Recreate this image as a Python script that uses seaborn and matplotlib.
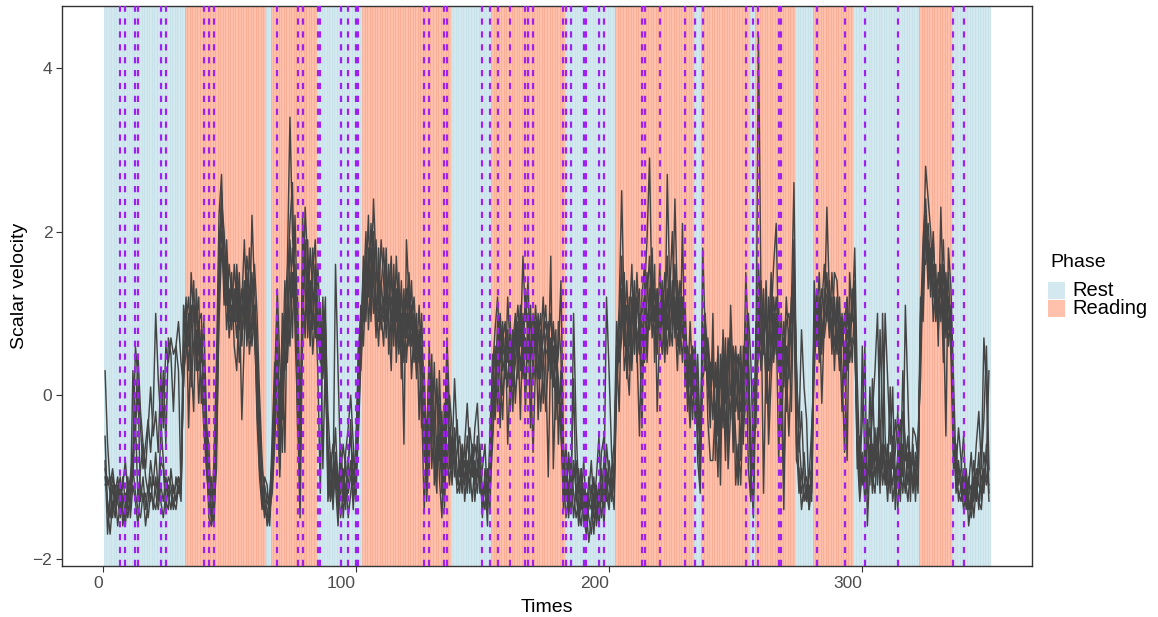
import numpy as np
import pandas as pd
import matplotlib
matplotlib.use("Agg")
import matplotlib.pyplot as plt
from matplotlib.patches import Rectangle
import seaborn as sns

# ---------------- data ----------------
phase_labels = ["Rest", "Reading", "Rest", "Reading", "Rest", "Reading", "Rest", "Reading",
                "Rest", "Reading", "Rest", "Reading", "Rest", "Reading", "Rest", "Reading",
                "Rest", "Reading", "Rest"]
phase_lengths = [32, 32, 2, 18, 18, 35, 16, 29, 20, 31, 3, 19, 2, 16, 7, 16, 26, 13, 15]
legend_levels = ["Rest", "Reading"]

x_ticks = [0, 100, 200, 300]
x_tick_labels = ["0", "100", "200", "300"]
y_ticks = [-2, 0, 2, 4]
y_tick_labels = ["\u22122", "0", "2", "4"]

event_times = [7, 9, 13, 14, 23, 25, 40, 42, 44, 69, 77, 79, 85, 86, 94, 97, 100, 101,
               127, 129, 135, 136, 150, 153, 156, 161, 167, 168, 170, 182, 183, 185, 190,
               191, 196, 198, 213, 214, 220, 230, 234, 237, 254, 257, 259, 267, 268, 282,
               293, 301, 314, 336, 340]

s1 = [0.3, -0.6, -1.1, -0.9, -1.2, -1.0, -1.3, -1.1, -0.8, -1.2,
      -1.0, -0.7, 0.6, 0.2, -0.4, -0.9, -0.6, -0.3, -0.7, -0.2,
      1.0, 0.2, -0.3, -0.8, -1.3, -1.4, -0.9, -1.2, -1.1, -1.0,
      -1.1, 1.1, 0.8, 0.3, 1.5, 0.9, 1.1, 0.5, 0.2, -0.4,
      -0.9, -1.3, -1.5, -0.8, 0.4, 2.2, 2.7, 1.5, 1.1, 1.6,
      1.2, 0.9, 1.4, 0.8, 1.1, 1.9, 1.0, 0.7, 2.2, 1.3,
      0.6, -0.4, -1.1, -1.4, -1.5, -1.2, -0.8, 0.2, 1.3, 0.4,
      -0.3, 0.9, 1.6, 3.4, 2.0, 1.1, 0.3, -1.2, 2.2, 1.3,
      0.9, 1.8, 1.2, 0.7, 1.6, 0.8, 0.4, 0.9, -0.2, -0.8,
      -1.2, 1.6, 0.3, -0.9, -1.3, -0.7, -0.4, 0.0, -0.6, -1.2,
      -0.1, 0.8, 1.5, 0.9, 1.8, 1.3, 2.4, 1.6, 1.1, 1.9,
      1.4, 0.7, 1.2, 1.7, 0.8, 1.3, 0.5, 1.0, -0.6, 1.9,
      1.2, 0.6, 1.0, 0.3, 0.8, -0.1, -1.4, -0.5, 0.4, -0.9,
      -0.3, 0.2, -1.0, -1.5, -0.6, 0.7, -0.2, -0.8, 0.2, -0.5,
      -0.9, -1.2, -0.6, -0.1, -0.7, -1.0, -0.4, -0.1, -0.8, -1.4,
      -1.0, -1.6, -0.4, 0.3, 0.8, 1.2, 0.4, 0.9, 0.2, 1.2,
      0.5, -0.2, 0.7, 1.1, 0.6, 1.7, 0.9, 1.4, 0.3, -0.7,
      0.4, 1.0, 0.2, 0.8, 1.1, 0.3, 1.7, -0.9, 0.2, 0.5,
      1.4, -0.6, -1.1, -0.8, -1.3, 1.0, -0.4, -1.2, -0.9, -1.5,
      -1.7, -1.2, -0.8, -1.4, -1.0, -0.5, -1.3, -1.1, 1.2, 0.3,
      -0.7, -1.2, 0.3, 1.1, 2.5, 0.9, 0.4, 0.0, 1.2, 0.7,
      1.5, 0.8, -0.4, 1.3, 1.9, 2.9, 1.0, 1.6, -0.2, 0.8,
      1.4, 0.6, 2.7, 1.2, 0.9, 2.4, 1.1, 0.5, 2.1, 0.1,
      0.6, 0.4, -0.3, 0.5, -0.8, -1.2, 1.8, 0.7, 0.2, -0.4,
      1.0, -0.8, 0.3, -1.1, 0.8, 0.1, -0.6, 1.1, 0.2, -0.5,
      -1.1, 0.4, -0.2, 1.5, 0.6, -0.9, -1.5, 0.3, 4.4, 1.2,
      -1.2, 0.5, -0.3, 0.9, 1.6, 2.1, 0.5, 0.1, -1.4, 0.6,
      0.2, 1.1, 2.6, 0.1, -0.4, 0.8, 0.1, -0.3, -1.4, -1.1,
      1.4, 0.6, 1.1, -0.1, 0.9, 2.3, 1.2, 0.7, 1.5, 1.4,
      0.8, -0.2, 0.6, -0.8, 1.5, 0.9, 1.8, 0.2, -0.9, -0.3,
      0.6, -1.6, -0.8, -0.2, 0.3, 1.0, -0.5, -0.9, 1.0, 0.2,
      -0.6, 0.1, -1.4, -0.7, -0.3, -1.0, 1.1, 0.0, -1.1, -0.6,
      -1.3, -0.5, 0.2, 1.6, 2.8, 2.4, 2.0, 1.2, 1.6, 0.6,
      2.3, 1.1, -0.5, 1.8, 1.3, 0.2, -0.9, -0.4, -0.8, -1.2,
      -1.0, -1.6, -1.3, -1.1, -0.6, -0.2, -0.9, 0.7, 0.1, -1.2]

s2 = [-0.5, -1.4, -1.7, -1.3, -1.5, -1.1, -1.4, -1.2, -1.5, -1.3,
      -1.1, -0.8, -0.3, 0.5, -0.2, -0.6, -0.9, -0.4, 0.1, -0.5,
      -0.2, -0.7, 0.3, -0.4, 0.6, 0.4, 0.7, 0.5, 0.6, 0.3,
      -1.2, 0.6, 1.2, -0.4, 0.8, 1.4, 0.3, 0.9, 1.0, 0.1,
      -0.6, -1.5, -1.6, -1.2, -0.3, 1.5, 2.4, 2.0, 1.3, 0.9,
      1.5, 0.6, 0.3, 1.2, -0.3, 0.7, 1.3, 0.5, 0.9, 1.6,
      1.0, 0.0, -0.8, -1.3, -1.4, -1.6, -0.9, -0.2, 0.6, -0.9,
      0.5, -0.7, 1.3, 2.1, 2.6, 0.8, -0.2, -1.5, 0.9, 2.3,
      1.6, 1.0, 1.8, 1.2, 0.3, -1.2, 0.9, 0.6, -1.3, -0.9,
      -0.6, -1.1, -1.6, -0.7, -1.0, -1.4, -0.8, -0.5, -1.1, -0.9,
      0.5, 1.0, 0.9, 1.7, 1.2, 2.1, 1.4, 0.7, 1.8, 1.0,
      0.6, 1.5, 0.9, 0.3, 1.6, 0.4, 1.1, 0.6, 0.9, 1.3,
      0.8, 1.4, 0.5, 1.0, -0.3, 0.6, 0.2, -1.3, -0.6, 0.1,
      -0.8, -1.2, 0.3, -0.7, -1.3, 0.2, -0.6, -1.1, -0.4, -0.9,
      -1.2, -0.7, -1.1, -0.5, -0.9, -1.3, -0.8, -1.0, -0.6, -1.2,
      -1.4, -0.9, -1.2, -0.6, 0.2, 0.5, -0.4, 0.7, 0.9, -0.6,
      0.3, 0.8, -0.1, 0.5, 1.0, 0.4, 1.3, 0.6, 1.1, 0.2,
      0.9, -0.3, 0.6, 1.2, 0.4, -1.0, 0.7, 0.1, 0.8, -0.6,
      0.3, -0.9, -1.3, -0.7, -1.0, -1.5, -1.1, -1.6, -1.3, -0.8,
      -1.4, -1.8, -1.5, -1.2, -1.6, -1.3, -0.9, -1.4, -0.6, -1.0,
      -1.3, -0.8, 0.5, -0.2, 1.3, 0.6, 1.1, 0.3, 0.8, 1.4,
      0.6, -0.5, 0.9, 0.4, 1.2, 1.7, 0.7, 1.1, 0.5, 1.6,
      0.9, 1.5, 0.8, 1.3, 2.0, 0.7, 1.4, 0.9, 0.4, 1.1,
      0.3, -0.2, 0.6, 0.4, -0.5, -1.0, 0.5, 1.0, -0.3, -0.8,
      -0.8, -0.1, -1.0, 0.5, -0.4, 0.7, -0.9, -0.2, 0.4, -1.1,
      -0.6, -1.1, 0.0, 0.8, -0.9, -1.3, 0.2, -0.4, 1.2, 0.6,
      1.3, -0.1, 0.7, 1.5, 0.4, 0.9, -0.8, 0.6, -1.0, 0.3,
      -0.5, 0.4, 1.9, -0.6, -1.2, -0.9, -1.3, -1.1, -1.4, -0.8,
      0.8, 1.3, 0.4, 1.1, 1.6, 0.9, 1.4, 0.6, 1.0, 0.5,
      1.2, 0.3, -0.7, 0.8, 0.6, 1.3, 1.0, -0.9, -0.5, -1.1,
      -0.6, -1.2, 0.1, -0.9, -0.4, -1.1, 0.8, -0.3, -1.0, -0.6,
      -1.2, -0.5, -0.9, -1.4, -0.8, -0.2, -0.6, -1.1, -0.7, -1.2,
      -0.9, -1.1, 0.9, 1.9, 2.4, 1.7, 1.4, 2.0, 1.1, 1.5,
      0.9, 1.6, 0.7, 1.2, 0.5, -0.9, -0.6, -1.1, -0.9, -0.5,
      -1.3, -1.1, -0.7, -1.3, -1.0, -1.4, -0.8, -0.3, 0.6, -0.9]

s3 = [-0.9, -1.1, -1.0, -1.4, -1.2, -1.6, -1.3, -1.0, -1.3, -1.5,
      -1.2, -1.0, -0.3, -1.3, -0.9, -0.6, -1.0, -1.2, -0.8, -1.1,
      -0.7, -1.2, -0.5, 0.3, -0.6, 0.7, 0.5, -0.2, 0.6, 0.9,
      0.4, 0.1, 0.9, 1.2, 0.4, -0.2, 1.3, 0.7, 0.4, 0.9,
      -0.2, -1.1, -1.4, -1.6, -0.5, 1.9, 2.2, 1.1, 1.7, 1.0,
      0.8, 1.3, 0.9, 1.5, 0.6, 1.2, 0.8, 1.8, 1.1, 0.7,
      0.2, -0.7, -1.3, -1.1, -1.3, -1.4, -0.5, 0.4, -0.2, -1.0,
      0.2, 1.4, 0.6, 1.9, 1.2, 1.6, -0.4, -0.8, 1.5, 1.7,
      1.2, 0.6, 1.5, 1.9, 0.8, 0.4, 1.2, 0.1, -0.7, -1.2,
      -0.9, -0.4, -1.2, -0.6, -1.5, -1.1, -0.9, -0.3, -1.3, -1.0,
      -0.5, 0.4, 1.2, 2.0, 0.8, 1.5, 1.9, 1.2, 0.6, 1.4,
      1.0, 1.8, 0.5, 1.2, 1.0, 0.6, 1.5, 0.2, 1.1, 0.7,
      1.3, 0.2, 0.8, 0.5, 1.1, 0.3, -0.5, -1.1, -0.2, 0.5,
      -1.1, -0.5, -0.8, -0.2, -1.4, -0.3, 0.0, -0.4, -1.0, -0.7,
      -0.5, -1.0, -0.8, -1.2, -0.4, -0.7, -1.1, -0.5, -1.2, -0.9,
      -0.6, -1.3, -0.8, -0.1, 0.6, -0.2, 0.9, 0.3, 0.5, 0.8,
      -0.2, 0.6, 1.0, 0.2, 0.8, 0.5, 0.1, 0.9, -0.4, 0.6,
      1.1, 0.5, -0.2, 0.4, 0.7, 0.9, 0.2, 0.6, -0.3, 0.9,
      0.5, -1.2, -0.6, -1.4, -1.1, 0.2, -1.3, -0.9, -1.4, -1.1,
      -1.5, -1.0, -1.3, -1.7, -1.1, -1.4, -0.7, -0.5, -1.2, -1.4,
      -0.9, -0.6, 0.9, 0.4, 0.7, 1.5, 0.2, 0.9, 1.6, 0.5,
      1.1, 1.3, 0.2, 0.7, 0.9, 1.2, 1.8, 0.4, 1.3, 0.9,
      0.5, 1.1, 1.7, 0.6, 1.4, 1.0, 0.3, 1.2, 0.8, 0.6,
      0.0, 0.9, 0.2, -0.3, 0.5, -0.6, 0.9, 0.3, 0.6, 0.1,
      0.4, -0.6, 0.6, -0.4, 0.2, -0.8, 0.5, 0.6, -0.7, 0.3,
      0.5, -0.8, 0.6, 0.3, 1.0, 0.4, -0.8, 0.7, 0.9, 0.3,
      0.6, 1.1, -0.6, 0.2, 1.0, 0.5, 1.1, -0.5, 0.4, 1.2,
      0.6, -0.2, 1.5, 0.4, -0.7, -0.2, -1.0, -1.3, -1.0, -0.4,
      0.3, 0.9, 1.5, 0.6, 1.0, 1.5, 0.8, 1.2, 0.3, 1.1,
      0.5, 1.0, 0.2, 1.1, 0.4, 0.7, 0.6, -0.4, -1.2, 0.6,
      -0.9, -0.3, -1.1, 0.2, -0.8, -0.4, -1.2, 1.0, -0.5, -1.0,
      0.1, -0.9, -0.3, -0.6, -1.1, 0.3, -0.8, -0.5, -1.3, -0.4,
      -0.5, -0.8, 1.2, 0.9, 2.1, 1.3, 1.8, 0.9, 1.4, 1.0,
      1.6, 0.4, 1.5, 0.8, 1.1, -0.5, -1.1, -0.8, -1.2, -0.9,
      -1.1, -1.4, -1.2, -0.8, -1.2, -0.7, -1.3, -1.0, -0.8, 0.3]

s4 = [-1.0, -1.3, -1.5, -1.1, -1.4, -1.3, -1.1, -1.4, -1.6, -1.2,
      -1.4, 0.3, -0.4, 0.1, -1.3, -1.0, -1.4, -1.1, -1.3, -1.0,
      -1.2, -1.4, -1.1, -1.3, -1.0, -1.2, -1.4, -1.1, -1.3, -1.0,
      -1.2, 0.3, 0.5, 1.0, 0.1, 0.6, 0.8, -0.1, 0.6, 0.3,
      -0.5, -0.9, -1.2, -1.4, -0.9, 1.2, 2.0, 1.7, 0.8, 1.3,
      0.9, 1.6, 1.1, 0.4, 0.9, 1.4, 0.6, 1.2, 1.5, 0.8,
      -0.1, -0.9, -1.2, -1.5, -1.2, -1.3, -1.1, -0.4, 0.9, -0.5,
      1.0, 0.3, 0.9, 1.5, 0.7, 2.2, 0.8, -0.6, 1.1, 0.9,
      1.5, 1.2, 0.8, 1.4, 1.1, 0.5, 0.2, 0.8, -1.0, -1.3,
      -1.0, -0.8, -1.3, -1.2, -0.9, -1.3, -1.1, -0.8, -1.4, -0.6,
      0.3, 1.1, 0.6, 1.4, 2.2, 0.9, 1.6, 1.9, 0.9, 1.3,
      1.8, 1.1, 1.5, 0.9, 1.3, 1.1, 0.7, 1.4, 0.4, 1.0,
      0.6, 1.1, 0.9, 0.2, 0.7, -0.4, 0.3, -0.9, 0.2, -0.6,
      0.4, -0.9, -0.1, -1.0, -0.4, -0.7, -1.1, -0.6, -0.8, -1.1,
      -0.8, -1.1, -1.0, -0.8, -1.2, -0.6, -1.3, -0.9, -1.0, -1.1,
      -1.2, -1.4, -0.6, -0.5, 0.1, 0.9, 0.2, -0.3, 0.7, 0.4,
      0.9, 0.1, 0.4, 0.8, -0.3, 1.0, 0.5, 0.7, 0.9, 0.4,
      0.2, 0.7, 1.0, -0.1, 0.5, 0.6, 1.0, 0.4, 0.6, 0.2,
      -0.3, -1.4, -0.9, -1.1, -1.4, -0.8, -1.2, -1.5, -1.1, -1.3,
      -1.2, -1.5, -1.7, -1.3, -1.2, -1.6, -1.2, -0.8, -1.0, -1.3,
      -1.0, -1.1, 0.2, 0.8, 1.7, 0.3, 0.6, 1.2, 0.4, 1.0,
      0.8, 0.5, 1.2, 1.6, 0.4, 1.3, 0.9, 1.3, 0.8, 1.1,
      1.2, 0.8, 1.3, 0.9, 0.6, 1.6, 0.8, 1.4, 1.0, 0.5,
      0.4, 0.1, 0.3, 0.6, -0.2, -0.6, 0.4, 0.9, 0.5, -0.2,
      0.6, -0.3, 0.2, 0.1, 0.7, -0.5, 0.3, 0.8, -0.4, 0.5,
      -0.3, 0.3, -0.6, 0.5, 0.2, -1.1, -1.2, 0.5, 1.6, 0.9,
      0.5, 1.4, 0.3, 0.6, 1.2, 0.7, 0.3, 1.0, 0.1, 0.9,
      1.0, 0.6, 1.3, -0.3, -1.0, -1.2, -0.7, -1.2, -1.1, -1.3,
      0.6, 1.1, 0.8, 0.5, 1.3, 1.2, 0.7, 1.5, 0.9, 0.8,
      0.3, 0.9, 0.5, 0.3, 1.0, 0.4, 1.2, -0.5, -0.9, -0.7,
      -1.1, -0.6, -0.4, -1.0, -1.2, -0.5, -0.9, -0.6, -1.1, -0.8,
      -0.9, -1.1, -0.7, -0.2, -0.9, -1.2, -0.6, -0.9, -0.8, -1.1,
      -0.7, -0.9, 0.8, 1.3, 1.9, 2.1, 1.5, 1.6, 0.9, 1.3,
      1.2, 1.9, 0.9, 1.5, 0.7, -0.3, -1.2, -0.9, -1.0, -1.3,
      -0.9, -1.3, -1.5, -1.2, -0.9, -1.1, -1.2, -0.7, -1.0, -1.1]

s5 = [-1.1, -1.0, -1.2, -1.5, -1.1, -1.3, -1.5, -1.3, -1.2, -1.4,
      -1.3, -0.9, -1.2, -1.4, -1.5, -1.2, -1.6, -1.3, -1.0, -1.4,
      -1.0, -1.3, -0.8, -0.9, -1.4, -1.1, -1.2, -1.4, -1.0, -1.2,
      -1.0, 0.2, 1.0, 0.6, 1.1, 0.5, 0.9, 1.2, -0.1, 0.5,
      -0.4, -0.6, -1.6, -1.1, -0.2, 1.6, 2.5, 1.2, 1.5, 0.7,
      1.1, 0.9, 1.6, 1.0, 1.3, 0.8, 1.5, 1.0, 0.6, 1.1,
      0.4, -0.3, -0.9, -1.2, -1.6, -1.4, -1.2, -0.6, 0.3, 0.1,
      -0.7, 0.6, 1.1, 0.6, 1.5, 0.9, 1.2, -0.1, 0.6, 1.9,
      0.7, 1.4, 0.5, 1.0, 0.9, 1.1, -0.9, 0.5, -0.6, -1.1,
      -1.3, -0.9, -1.4, -1.0, -0.6, -0.9, -1.2, -1.0, -0.7, -1.3,
      -0.4, 0.6, 1.7, 1.1, 1.4, 1.8, 1.0, 1.5, 1.3, 0.8,
      1.2, 0.9, 1.6, 0.6, 1.4, 0.9, 1.2, 0.8, 1.3, 0.4,
      1.0, 0.8, 1.2, 0.6, 0.4, 0.9, -0.2, -0.6, 0.6, -0.3,
      -0.6, 0.1, -0.5, -1.2, -0.1, -0.9, -0.4, -0.9, -0.7, -0.3,
      -1.0, -0.6, -1.3, -0.9, -1.1, -0.8, -0.9, -1.2, -0.7, -1.5,
      -0.9, -1.1, -1.4, 0.1, -0.3, 0.4, 0.6, 0.0, 0.3, 0.7,
      0.1, 0.4, 0.6, 0.9, 0.3, 0.8, -0.2, 1.0, 0.4, 0.8,
      0.6, 0.2, 0.8, 0.5, -0.2, 0.4, 0.5, 0.9, 0.3, 0.1,
      -0.5, -1.0, -1.5, -1.2, -0.8, -1.2, -1.5, -1.3, -0.9, -1.6,
      -1.3, -1.4, -1.1, -1.5, -1.4, -1.1, -1.5, -1.2, -1.3, -0.8,
      -1.1, -1.4, 0.1, 0.6, 0.9, 1.2, 0.5, 0.7, 0.3, 1.2,
      0.4, 1.0, 0.6, 1.0, 1.5, 0.8, 1.2, 0.7, 1.1, 0.6,
      1.0, 0.4, 1.1, 1.5, 0.8, 1.2, 0.6, 1.0, 0.7, 0.9,
      -0.2, 0.5, 0.0, 0.2, 0.3, -0.9, 0.2, 0.4, 0.7, 0.3,
      -0.3, 0.4, -0.5, 0.3, -0.2, 0.5, 0.1, -0.3, 0.6, -0.2,
      0.2, 0.6, -0.4, -0.1, 0.4, -0.6, -1.0, 0.1, 0.5, 1.4,
      0.8, 0.2, 1.2, 0.3, 0.8, 1.2, 0.6, 0.2, 0.7, -0.2,
      0.5, 1.2, 1.1, -0.8, -0.9, -1.4, -1.1, -1.0, -1.2, -1.2,
      0.5, 0.7, 1.2, 0.9, 0.7, 1.0, 1.3, 0.5, 1.2, 0.6,
      0.9, 0.6, 1.0, 0.5, 0.8, 1.1, 0.7, -0.7, -1.3, -0.9,
      -0.8, -1.0, -0.6, -1.2, -0.7, -0.9, -0.3, -1.1, -0.8, -1.3,
      -0.7, -1.3, -1.0, -0.8, -1.3, -0.6, -1.0, -1.3, -0.9, -0.8,
      -1.1, -0.7, 0.5, 1.7, 1.6, 1.9, 1.2, 1.9, 1.2, 0.8,
      1.4, 0.8, 1.3, 0.6, 1.0, -0.7, -0.8, -1.3, -1.1, -1.4,
      -1.2, -1.0, -1.4, -1.0, -1.3, -0.9, -1.0, -1.2, -0.6, -1.3]

s6 = [-0.8, -1.7, -1.2, -1.0, -1.3, -1.2, -1.0, -1.6, -1.4, -1.0,
      -1.5, -1.1, -1.3, -1.6, -1.1, -1.3, -1.2, -1.5, -1.2, -1.3,
      -1.4, -1.1, -1.3, -1.5, -1.2, -1.0, -1.1, -1.3, -1.4, -1.1,
      -1.3, 0.5, 0.7, 0.9, 0.2, 1.1, 0.6, 0.3, 0.8, -0.2,
      -0.8, -1.3, -1.0, -1.5, -0.6, 0.9, 1.8, 1.4, 1.9, 1.1,
      1.3, 1.1, 0.7, 1.3, 0.8, 1.0, 1.7, 1.3, 0.8, 1.0,
      -0.3, -1.0, -1.4, -1.0, -1.1, -1.5, -1.0, 0.0, 0.7, -0.4,
      0.7, 1.0, 0.4, 1.1, 1.8, 1.3, 0.6, -1.0, 1.3, 0.7,
      1.9, 0.8, 1.0, 1.6, 0.6, 0.9, 0.5, 1.2, -1.1, -0.7,
      -1.4, -0.7, -1.0, -1.5, -1.2, -0.8, -1.5, -1.2, -0.9, -1.1,
      0.6, 0.3, 1.0, 1.3, 1.6, 1.1, 2.0, 0.9, 1.5, 1.1,
      0.9, 1.3, 1.0, 1.5, 0.6, 1.7, 0.9, 1.2, 0.7, 1.1,
      1.5, 0.9, 0.4, 0.8, 0.5, 1.0, -0.8, -0.3, -0.9, 0.2,
      -0.5, -1.0, -0.6, -0.8, -0.9, 0.4, -0.9, -0.5, -0.6, -1.2,
      -1.1, -0.9, -0.6, -1.1, -0.9, -1.0, -0.6, -0.8, -1.1, -1.3,
      -1.1, -1.2, -1.0, 0.5, -0.1, 0.6, 1.0, 0.5, 0.6, 0.1,
      0.7, 0.3, 0.9, 0.4, 1.1, 0.2, 0.7, 0.4, 0.6, 1.0,
      0.5, 0.9, 0.4, 0.7, 0.9, 0.6, 0.3, 0.8, 0.5, -0.1,
      -0.1, -1.3, -1.0, -1.5, -1.2, -1.0, -0.8, -1.4, -1.6, -1.2,
      -1.6, -1.3, -1.4, -1.0, -1.5, -1.2, -1.1, -1.6, -0.9, -1.1,
      -1.2, -1.0, 0.6, 0.5, 1.1, 0.8, 1.4, 0.6, 1.1, 0.9,
      1.2, 0.7, 1.0, 1.2, 0.7, 1.1, 1.4, 0.9, 1.3, 0.7,
      1.3, 1.0, 0.5, 1.1, 1.2, 0.8, 1.3, 0.6, 1.2, 0.8,
      0.2, -0.4, 0.4, 0.0, 0.1, -0.7, 0.7, 0.5, 0.1, 0.4,
      0.2, 0.1, 0.5, -0.6, 0.4, -0.1, 0.7, 0.0, 0.3, 0.6,
      0.1, -0.2, 0.3, 0.9, 0.2, -1.0, -1.3, 0.9, 0.7, 0.4,
      1.0, 0.8, 0.5, 1.2, 0.6, 1.0, 0.8, 0.4, 0.9, 0.3,
      0.8, 0.9, 1.7, 0.3, -0.5, -1.0, -1.2, -1.3, -0.9, -1.0,
      1.0, 0.8, 1.0, 1.3, 0.9, 1.1, 1.0, 0.9, 0.6, 1.2,
      0.6, 0.7, 0.9, 1.2, 0.6, 1.0, 1.4, -0.6, -1.1, -0.8,
      -1.3, -0.9, -1.0, -0.6, -1.0, -0.7, -1.1, -0.8, -0.6, -1.1,
      -1.0, -0.7, -1.2, -1.0, -0.6, -0.9, -1.2, -0.7, -1.0, -1.0,
      -0.8, -1.2, 1.0, 1.5, 2.2, 1.5, 1.7, 1.3, 1.0, 1.2,
      1.0, 1.3, 1.1, 0.9, 0.8, -0.5, -1.0, -1.2, -1.3, -1.0,
      -1.4, -1.2, -1.1, -1.5, -1.1, -1.3, -1.4, -0.9, -1.1, -0.9]

series = {"s1": s1, "s2": s2, "s3": s3, "s4": s4, "s5": s5, "s6": s6}
for k, v in series.items():
    assert len(v) == 350, (k, len(v))

times = np.arange(1, 351)
phase = np.repeat(phase_labels, phase_lengths)

long = pd.concat([pd.DataFrame({"Times": times, "value": v, "series": k})
                  for k, v in series.items()], ignore_index=True)

# ---------------- style ----------------
sns.set_style("white")
plt.rcParams["font.family"] = ["Liberation Sans", "DejaVu Sans"]

fill_col = {"Rest": "#D4E9EF", "Reading": "#FFC1AB"}
edge_col = {"Rest": "#C3E0E8", "Reading": "#FAA88E"}

W, H = 1158, 617
fig = plt.figure(figsize=(W / 100, H / 100), dpi=100)
ax = fig.add_axes([62 / W, 1 - 566 / H, (1032 - 62) / W, (566 - 6) / H])

for t, ph in zip(times, phase):
    ax.axvspan(t - 0.5, t + 0.5, facecolor=fill_col[ph], edgecolor=edge_col[ph],
               linewidth=0.5, zorder=0)

sns.lineplot(data=long, x="Times", y="value", units="series", estimator=None,
             color="#444444", linewidth=1.05, ax=ax, legend=False, zorder=2)

for e in event_times:
    ax.axvline(e, color="#A020F0", linestyle=(0, (2.8, 3.0)), linewidth=1.6, zorder=3)

ax.set_xlim(-16.0, 367.0)
ax.set_ylim(-2.09, 4.76)
ax.set_xticks(x_ticks, labels=x_tick_labels, ha="right")
ax.set_yticks(y_ticks, labels=y_tick_labels)
ax.tick_params(axis="both", which="major", direction="out", length=4, width=0.8,
               color="#333333", labelsize=12.5, labelcolor="#4D4D4D", pad=3,
               bottom=True, left=True)
for sp in ax.spines.values():
    sp.set_color("#333333")
    sp.set_linewidth(1.0)
ax.set_xlabel("Times", fontsize=14, color="black", labelpad=6)
ax.set_ylabel("Scalar velocity", fontsize=14, color="black", labelpad=3)
ax.grid(False)

# legend (drawn in figure pixel coordinates)
fig.text(1050 / W, 1 - 263 / H, "Phase", fontsize=14, color="black",
         ha="left", va="center")
key_top = 282
for i, lev in enumerate(legend_levels):
    y0 = key_top + i * 18
    fig.patches.append(Rectangle((1048 / W, 1 - (y0 + 17) / H), 17 / W, 17 / H,
                                 transform=fig.transFigure, facecolor=fill_col[lev],
                                 edgecolor="none"))
    fig.text(1072 / W, 1 - (y0 + 8.5) / H, lev, fontsize=14.5, color="black",
             ha="left", va="center")

fig.savefig("out.png", dpi=100)
